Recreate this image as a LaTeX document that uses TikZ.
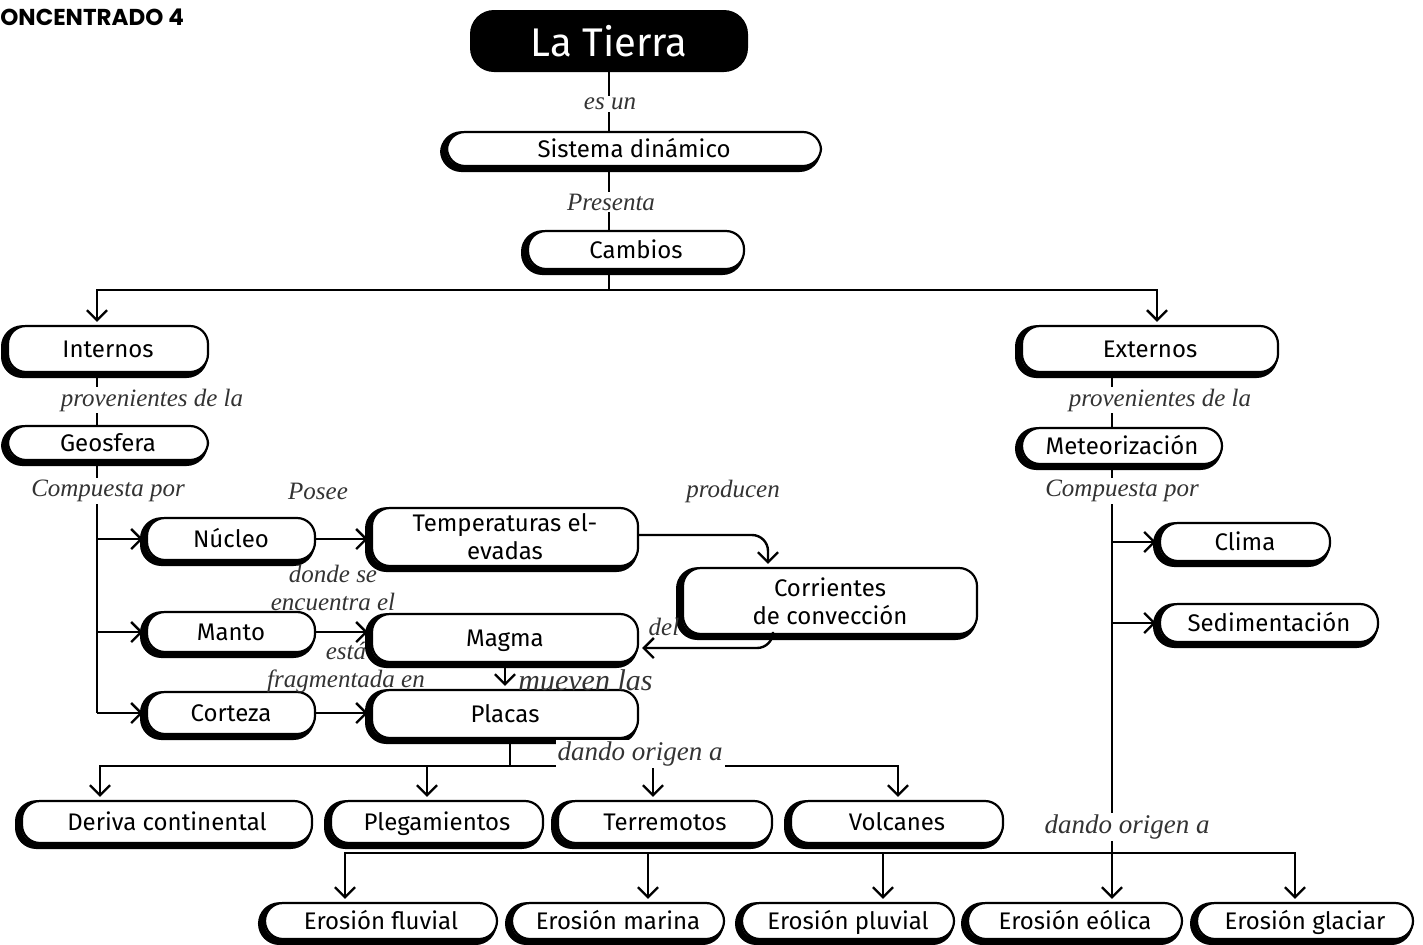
\documentclass[tikz,border=0pt]{standalone}
\usepackage{fontspec}
\setmainfont{Liberation Serif}
\newfontfamily\handfont{Fira Sans}
\newfontfamily\headfont{Poppins}
\usetikzlibrary{arrows.meta}
\tikzset{
  cbox/.style={draw,line width=1.1pt,fill=white,rounded corners=9pt,align=center,inner sep=2pt,
    text height=10.5pt,text depth=2.5pt,font=\handfont\fontsize{12}{14}\selectfont,
    preaction={draw,line width=3.4pt,rounded corners=9pt,transform canvas={shift={(-1.8pt,-1.3pt)}}}},
  twoline/.style={text height={},text depth={}},
  conn/.style={line width=1.2pt},
  arr/.style={conn,shorten >=1.5pt,-{Straight Barb[length=5pt,width=10pt,line width=1.2pt]}},
  lbl/.style={font=\itshape\fontsize{12.5}{14}\selectfont,text=black!80,inner sep=1pt,fill=white,align=center}
}
\begin{document}
\begin{tikzpicture}[x=0.5pt,y=-0.5pt]
  \useasboundingbox (0,0) rectangle (1423,944);
  \node[anchor=west,inner sep=0pt,font=\headfont\bfseries\fontsize{11.5}{13}\selectfont] (title) at (0,17) {ONCENTRADO 4};
  % top of the map
  \node[fill=black,text=white,rounded corners=12pt,minimum width=139pt,minimum height=31pt,font=\handfont\fontsize{20}{22}\selectfont] (tierra) at (609,41) {La Tierra};
  \node[cbox,minimum width=187pt,minimum height=17pt] (sistema) at (634,149) {Sistema dinámico};
  \node[cbox,minimum width=108pt,minimum height=19pt] (cambios) at (636,250) {Cambios};
  \node[cbox,minimum width=100pt,minimum height=23pt] (internos) at (108,349) {Internos};
  \node[cbox,minimum width=128pt,minimum height=23pt] (externos) at (1150,349) {Externos};
  \node[cbox,minimum width=100pt,minimum height=17pt] (geosfera) at (108,443) {Geosfera};
  \node[cbox,minimum width=100pt,minimum height=18pt] (meteor) at (1122,446) {Meteorización};
  % geosfera
  \node[cbox,minimum width=84pt,minimum height=21pt] (nucleo) at (231,539) {Núcleo};
  \node[cbox,minimum width=84pt,minimum height=20pt] (manto) at (231,632) {Manto};
  \node[cbox,minimum width=84pt,minimum height=21pt] (corteza) at (231,713) {Corteza};
  \node[cbox,twoline,minimum width=133pt,minimum height=29pt] (temp) at (505,537) {Temperaturas el-\\evadas};
  \node[cbox,twoline,minimum width=147pt,minimum height=33pt] (corr) at (830,601) {Corrientes\\de convección};
  \node[cbox,minimum width=133pt,minimum height=24pt] (magma) at (505,638) {Magma};
  \node[cbox,minimum width=133pt,minimum height=24pt] (placas) at (505,714) {Placas};
  % meteorizacion
  \node[cbox,minimum width=85pt,minimum height=19pt] (clima) at (1245,542) {Clima};
  \node[cbox,minimum width=109pt,minimum height=19pt] (sedim) at (1269,623) {Sedimentación};
  % results
  \node[cbox,minimum width=145pt,minimum height=21pt] (deriva) at (167,822) {Deriva continental};
  \node[cbox,minimum width=106pt,minimum height=21pt] (pleg) at (437,822) {Plegamientos};
  \node[cbox,minimum width=107pt,minimum height=21pt] (terr) at (665,822) {Terremotos};
  \node[cbox,minimum width=106pt,minimum height=21pt] (volc) at (897,822) {Volcanes};
  \node[cbox,minimum width=116pt,minimum height=18pt] (fluvial) at (381,921) {Erosión fluvial};
  \node[cbox,minimum width=106pt,minimum height=18pt] (marina) at (618,921) {Erosión marina};
  \node[cbox,minimum width=106pt,minimum height=18pt] (pluvial) at (848,921) {Erosión pluvial};
  \node[cbox,minimum width=107pt,minimum height=18pt] (eolica) at (1075,921) {Erosión eólica};
  \node[cbox,minimum width=108pt,minimum height=18pt] (glaciar) at (1305,921) {Erosión glaciar};
  % connectors
  \coordinate (hub) at (609,290);
  \coordinate (hub2) at (510,766);
  \coordinate (hub3) at (1112,853);
  \coordinate (lspine) at (97,0);
  \coordinate (rspine) at (1112,0);
  \draw[conn] (tierra.south) -- (tierra.south |- sistema.north);
  \draw[conn] (sistema.south -| tierra) -- (cambios.north -| tierra);
  \draw[conn] (cambios.south -| tierra) -- (hub);
  \draw[arr] (hub) -| (lspine |- internos.north);
  \draw[arr] (hub) -| ([xshift=3.5pt]externos.north);
  \draw[conn] (lspine |- internos.south) -- (lspine |- geosfera.north);
  \draw[conn] (lspine |- geosfera.south) -- (lspine |- corteza);
  \draw[arr] (lspine |- nucleo) -- (nucleo.west);
  \draw[arr] (lspine |- manto) -- (manto.west);
  \draw[arr] (lspine |- corteza) -- (corteza.west);
  \draw[arr] (nucleo.east) -- (nucleo.east -| temp.west);
  \draw[arr] (manto.east) -- (manto.east -| magma.west);
  \draw[arr] (corteza.east) -- (corteza.east -| placas.west);
  \draw[arr,rounded corners=8pt] ([yshift=1pt]temp.east) -| ([xshift=-31pt]corr.north);
  \draw[arr,rounded corners=8pt] ([xshift=-28.5pt]corr.south) |- ([yshift=-5pt]magma.east);
  \draw[arr] (magma.south) -- (placas.north);
  \draw[conn] (placas.south -| hub2) -- (hub2);
  \draw[arr] (hub2) -| ([xshift=-33.5pt]deriva.north);
  \draw[arr] (hub2) -| ([xshift=-5pt]pleg.north);
  \draw[arr] (hub2) -| ([xshift=-6pt]terr.north);
  \draw[arr] (hub2) -| ([xshift=0.5pt]volc.north);
  \draw[conn] (rspine |- externos.south) -- (rspine |- meteor.north);
  \draw[conn] (rspine |- meteor.south) -- (hub3);
  \draw[arr] (rspine |- clima.west) -- (clima.west);
  \draw[arr] (rspine |- sedim.west) -- (sedim.west);
  \draw[arr] (hub3) -| ([xshift=-18pt]fluvial.north);
  \draw[arr] (hub3) -| ([xshift=15pt]marina.north);
  \draw[arr] (hub3) -| ([xshift=17.5pt]pluvial.north);
  \draw[arr] (hub3) -- (hub3 |- eolica.north);
  \draw[arr] (hub3) -| ([xshift=-5pt]glaciar.north);
  % labels
  \node[lbl] (esun) at (610,104) {es un};
  \node[lbl] (presenta) at (611,202) {Presenta};
  \node[lbl] (provl) at (152,400) {provenientes de la};
  \node[lbl] (provr) at (1160,400) {provenientes de la};
  \node[lbl] (compl) at (108,491) {Compuesta por};
  \node[lbl] (compr) at (1122,491) {Compuesta por};
  \node[lbl] (posee) at (318,491) {Posee};
  \node[lbl] (producen) at (733,491) {producen};
  \node[lbl,fill=none] (donde) at (333,588) {donde se\\encuentra el};
  \node[lbl,fill=none] (del) at (664,627) {del};
  \node[lbl,fill=none] (esta) at (346,667) {está\\fragmentada en};
  \node[lbl,fill=none,anchor=west,font=\itshape\fontsize{15}{16}\selectfont] (mueven) at (516,680) {mueven las};
  \node[lbl,font=\itshape\fontsize{13.5}{15}\selectfont] (origenl) at (640,754) {dando origen a};
  \node[lbl,font=\itshape\fontsize{13.5}{15}\selectfont] (origenr) at (1127,827) {dando origen a};
\end{tikzpicture}
\end{document}
